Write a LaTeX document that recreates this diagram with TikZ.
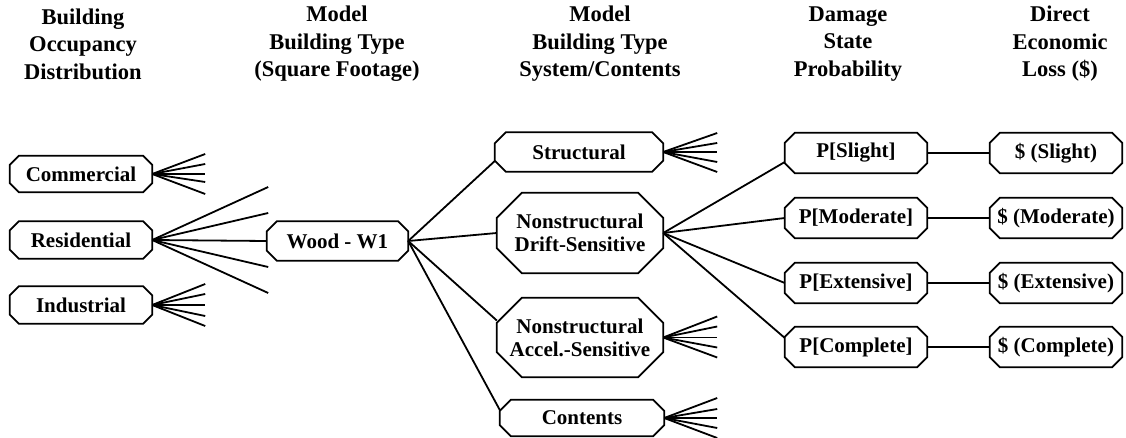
\documentclass[tikz,border=0pt]{standalone}
\usepackage{fontspec}
\setmainfont{Liberation Serif}
\usetikzlibrary{calc}
\newcommand\octo[2]{%
  \draw[boxline] ($(#1.north west)+(#2pt,0pt)$) -- ($(#1.north east)+(-#2pt,0pt)$)
    -- ($(#1.north east)+(0pt,-#2pt)$) -- ($(#1.south east)+(0pt,#2pt)$)
    -- ($(#1.south east)+(-#2pt,0pt)$) -- ($(#1.south west)+(#2pt,0pt)$)
    -- ($(#1.south west)+(0pt,#2pt)$) -- ($(#1.north west)+(0pt,-#2pt)$) -- cycle;}
\tikzset{
  box/.style={draw=none, inner sep=0pt, align=center,
    font=\bfseries\fontsize{21}{23}\selectfont},
  boxline/.style={line width=1.8pt, line join=miter},
  link/.style={line width=1.8pt},
  thinlink/.style={line width=1.2pt},
  head/.style={inner sep=0pt, align=center,
    font=\bfseries\fontsize{22.5}{27.5}\selectfont},
}
\begin{document}
\begin{tikzpicture}[x=1pt,y=-1pt]
\useasboundingbox (0,0) rectangle (1126,438);
% headers
\node[head] (h1) at (83,44) {Building\\Occupancy\\Distribution};
\node[head] (h2) at (337,44) {Model\\Building Type\\(Square Footage)};
\node[head] (h3) at (600,44) {Model\\Building Type\\System/Contents};
\node[head] (h4) at (848,44) {Damage\\State\\Probability};
\node[head] (h5) at (1060,44) {Direct\\Economic\\Loss (\$)};
% occupancy
\node[box, minimum width=142pt, minimum height=36pt] (com) at (81,174) {Commercial};
\node[box, minimum width=142pt, minimum height=37pt] (res) at (81,240) {Residential};
\node[box, minimum width=142pt, minimum height=37pt] (ind) at (81,305) {Industrial};
\octo{com}{9}\octo{res}{9}\octo{ind}{9}
% wood
\node[box, minimum width=141pt, minimum height=39pt] (wood) at (337.5,241) {Wood - W1};
\octo{wood}{10}
% systems
\node[box, minimum width=168pt, minimum height=39pt] (str) at (579,152) {Structural};
\node[box, minimum width=166pt, minimum height=80pt] (dri) at (580,233) {Nonstructural\\Drift-Sensitive};
\node[box, minimum width=166pt, minimum height=79pt] (acc) at (580,337.5) {Nonstructural\\Accel.-Sensitive};
\node[box, minimum width=164pt, minimum height=36pt] (con) at (582,418) {Contents};
\octo{str}{11}\octo{dri}{25}\octo{acc}{25}\octo{con}{11}
% damage states
\node[box, minimum width=142pt, minimum height=40pt] (ps) at (856,153) {P[Slight]};
\node[box, minimum width=142pt, minimum height=40pt] (pm) at (856,218) {P[Moderate]};
\node[box, minimum width=142pt, minimum height=40pt] (pe) at (856,283) {P[Extensive]};
\node[box, minimum width=142pt, minimum height=40pt] (pc) at (856,347) {P[Complete]};
\octo{ps}{10}\octo{pm}{10}\octo{pe}{10}\octo{pc}{10}
% losses
\node[box, minimum width=132pt, minimum height=40pt] (ds) at (1056,153) {\$ (Slight)};
\node[box, minimum width=132pt, minimum height=40pt] (dm) at (1056,218) {\$ (Moderate)};
\node[box, minimum width=132pt, minimum height=40pt] (de) at (1056,283) {\$ (Extensive)};
\node[box, minimum width=132pt, minimum height=40pt] (dc) at (1056,347) {\$ (Complete)};
\octo{ds}{10}\octo{dm}{10}\octo{de}{10}\octo{dc}{10}
% fans
\foreach \d [count=\i] in {-20,-10,0,8,20} {
  \coordinate (comf\i) at ($(com.east)+(53,\d)$);
  \draw[link] (com.east) -- (comf\i);}
\foreach \d [count=\i] in {-21,-11,0,11,21} {
  \coordinate (indf\i) at ($(ind.east)+(53,\d)$);
  \draw[link] (ind.east) -- (indf\i);}
\foreach \d [count=\i] in {-53,-27,27,53} {
  \coordinate (resf\i) at ($(res.east)+(116,\d)$);
  \draw[link] (res.east) -- (resf\i);}
\foreach \d [count=\i] in {-19,-9,0,10,20} {
  \coordinate (strf\i) at ($(str.east)+(54,\d)$);
  \draw[link] (str.east) -- (strf\i);}
\foreach \d [count=\i] in {-21,-11,0,10,20} {
  \coordinate (accf\i) at ($(acc.east)+(54,\d)$);
  \draw[link] (acc.east) -- (accf\i);}
\foreach \d [count=\i] in {-20,-9,0,10,20} {
  \coordinate (conf\i) at ($(con.east)+(53,\d)$);
  \draw[link] (con.east) -- (conf\i);}
% connectors
\draw[link] (res.east) -- (wood.west);
\draw[link] (wood.east) -- ([yshift=-9pt]str.west);
\draw[link] (wood.east) -- (dri.west);
\draw[link] (wood.east) -- ([yshift=17pt]acc.west);
\draw[link] (wood.east) -- ([yshift=8pt]con.west);
\draw[link] (dri.east) -- ([yshift=-9pt]ps.west);
\draw[link] (dri.east) -- (pm.west);
\draw[link] (dri.east) -- (pe.west);
\draw[link] (dri.east) -- ([yshift=9pt]pc.west);
\draw[thinlink] (ps.east) -- (ds.west);
\draw[thinlink] (pm.east) -- (dm.west);
\draw[thinlink] (pe.east) -- (de.west);
\draw[thinlink] (pc.east) -- (dc.west);
\end{tikzpicture}
\end{document}
